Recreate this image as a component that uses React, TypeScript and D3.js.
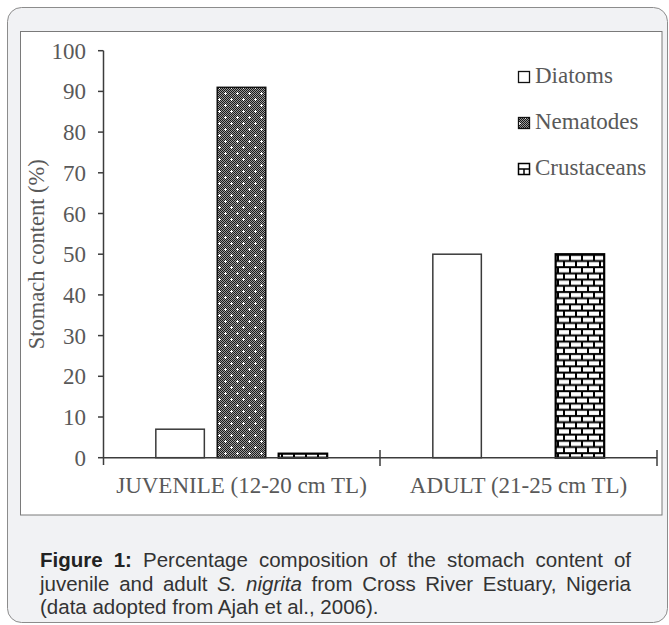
import React, { useLayoutEffect, useRef, useState } from "react";
import * as d3 from "d3";

const categories = ["JUVENILE (12-20 cm TL)", "ADULT (21-25 cm TL)"];
const series = ["Diatoms", "Nematodes", "Crustaceans"];
const diatoms = [7, 50];
const nematodes = [91, 0];
const crustaceans = [1, 50];
const yTicks = [0, 10, 20, 30, 40, 50, 60, 70, 80, 90, 100];
const yLabel = "Stomach content (%)";

const seriesValues: Record<string, number[]> = {
  Diatoms: diatoms,
  Nematodes: nematodes,
  Crustaceans: crustaceans,
};

const fills: Record<string, string> = {
  Diatoms: "#ffffff",
  Nematodes: "url(#dots)",
  Crustaceans: "url(#bricks)",
};
const strokes: Record<string, { c: string; w: number }> = {
  Diatoms: { c: "#3a3a3a", w: 1.5 },
  Nematodes: { c: "#111", w: 1.5 },
  Crustaceans: { c: "#000", w: 2.2 },
};

const SERIF = "'Liberation Serif', 'Times New Roman', serif";
const SANS = "'Liberation Sans', Arial, sans-serif";

function JLine({ x, y, width, justify, children, size }: any) {
  const ref = useRef<SVGTextElement>(null);
  const [ws, setWs] = useState(0);
  useLayoutEffect(() => {
    if (!justify || !ref.current) return;
    const el = ref.current;
    const natural = el.getComputedTextLength();
    const spaces = (el.textContent || "").split(" ").length - 1;
    if (spaces > 0) setWs((width - natural) / spaces);
  }, []);
  return (
    <text
      ref={ref}
      x={x}
      y={y}
      fontFamily={SANS}
      fontSize={size}
      fill="#333"
      style={{ wordSpacing: ws + "px", whiteSpace: "pre" }}
    >
      {children}
    </text>
  );
}

export default function App() {
  const x0 = d3.scaleBand<string>().domain(categories).range([103, 657]);
  const x1 = d3
    .scaleBand<string>()
    .domain(series)
    .range([0, x0.bandwidth()])
    .paddingInner(0.21)
    .paddingOuter(0.86);
  const y = d3.scaleLinear().domain([0, 100]).range([457.7, 50.7]);

  const checker: JSX.Element[] = [];
  for (let i = 0; i < 12; i++)
    for (let j = 0; j < 12; j++)
      if ((i + j) % 2 === 0)
        checker.push(<rect key={i + "-" + j} x={i} y={j} width={1} height={1} fill="#1a1a1a" />);

  const axisColor = "#3c3c3c";
  const labelColor = "#595959";
  const FS = 23;

  return (
    <div style={{ position: "absolute", left: 0, top: 0 }}>
      <svg width={669} height={625} style={{ display: "block" }}>
        <defs>
          <pattern id="dots" patternUnits="userSpaceOnUse" width={12} height={12}>
            <rect x={0} y={0} width={12} height={12} fill="#9a9a9a" />
            {checker}
            <rect x={2} y={3} width={3} height={1} fill="#fff" />
            <rect x={3} y={2} width={1} height={3} fill="#fff" />
            <rect x={8} y={9} width={3} height={1} fill="#fff" />
            <rect x={9} y={8} width={1} height={3} fill="#fff" />
          </pattern>
          <pattern id="bricks" patternUnits="userSpaceOnUse" width={12} height={12.4}>
            <rect x={0} y={0} width={12} height={12.4} fill="#000" />
            <rect x={1} y={1.6} width={10} height={4.2} fill="#fff" />
            <rect x={7} y={7.8} width={5} height={4.2} fill="#fff" />
            <rect x={0} y={7.8} width={5} height={4.2} fill="#fff" />
          </pattern>
        </defs>
        <rect x={7.5} y={7.5} width={660} height={615} rx={14} fill="#f1f2f4" stroke="#8c8c8c" />
        <rect x={20.5} y={31.5} width={641.5} height={483.5} fill="#fff" stroke="#7a7a7a" />

        {/* bars */}
        {categories.map((cat, ci) =>
          series.map((s) => {
            const v = seriesValues[s][ci];
            if (!v) return null;
            const bx = (x0(cat) as number) + (x1(s) as number);
            return (
              <rect
                key={cat + s}
                x={bx}
                y={y(v)}
                width={x1.bandwidth()}
                height={y(0) - y(v)}
                fill={fills[s]}
                stroke={strokes[s].c}
                strokeWidth={strokes[s].w}
              />
            );
          })
        )}

        {/* y axis */}
        <line x1={103.5} x2={103.5} y1={y(100)} y2={465} stroke={axisColor} strokeWidth={1.5} />
        {yTicks.map((t) => (
          <g key={t}>
            <line x1={98} x2={103.5} y1={y(t)} y2={y(t)} stroke={axisColor} strokeWidth={1.5} />
            <text
              x={86}
              y={y(t)}
              dy="0.35em"
              textAnchor="end"
              fontFamily={SERIF}
              fontSize={FS}
              fill={labelColor}
            >
              {t}
            </text>
          </g>
        ))}
        <text
          transform={`translate(44,${(y(0) + y(100)) / 2}) rotate(-90)`}
          textAnchor="middle"
          fontFamily={SERIF}
          fontSize={22.5}
          fill={labelColor}
        >
          {yLabel}
        </text>

        {/* x axis */}
        <line x1={103.5} x2={657} y1={y(0)} y2={y(0)} stroke={axisColor} strokeWidth={1.5} />
        {categories.map((cat, i) => (
          <line
            key={"t" + i}
            x1={(x0(cat) as number) + x0.bandwidth()}
            x2={(x0(cat) as number) + x0.bandwidth()}
            y1={450}
            y2={466}
            stroke={axisColor}
            strokeWidth={1.5}
          />
        ))}
        {categories.map((cat) => (
          <text
            key={cat}
            x={(x0(cat) as number) + x0.bandwidth() / 2}
            y={493}
            textAnchor="middle"
            fontFamily={SERIF}
            fontSize={FS}
            fill={labelColor}
          >
            {cat}
          </text>
        ))}

        {/* legend */}
        {series.map((s, i) => {
          const ly = 83 + i * 46;
          return (
            <g key={s}>
              {s === "Crustaceans" ? (
                <g>
                  <rect x={518.5} y={ly - 11.5} width={11} height={11} fill="#fff" stroke="#000" strokeWidth={1.5} />
                  <line x1={518.5} x2={529.5} y1={ly - 6} y2={ly - 6} stroke="#000" strokeWidth={1.5} />
                  <line x1={524} x2={524} y1={ly - 6} y2={ly - 0.5} stroke="#000" strokeWidth={1.5} />
                </g>
              ) : (
                <rect
                  x={518.5}
                  y={ly - 11.5}
                  width={11}
                  height={11}
                  fill={fills[s]}
                  stroke="#111"
                  strokeWidth={1.3}
                />
              )}
              <text x={535} y={ly} fontFamily={SERIF} fontSize={FS} fill={labelColor}>
                {s}
              </text>
            </g>
          );
        })}

        {/* caption */}
        <JLine x={40} y={567} width={591} justify size={20.5}>
          <tspan fontWeight="bold" fill="#222">Figure 1:</tspan>
          {" Percentage composition of the stomach content of"}
        </JLine>
        <JLine x={40} y={591} width={591} justify size={20.5}>
          {"juvenile and adult "}
          <tspan fontStyle="italic">S. nigrita</tspan>
          {" from Cross River Estuary, Nigeria"}
        </JLine>
        <JLine x={40} y={614} width={591} size={20.5}>
          (data adopted from Ajah et al., 2006).
        </JLine>
      </svg>
    </div>
  );
}
